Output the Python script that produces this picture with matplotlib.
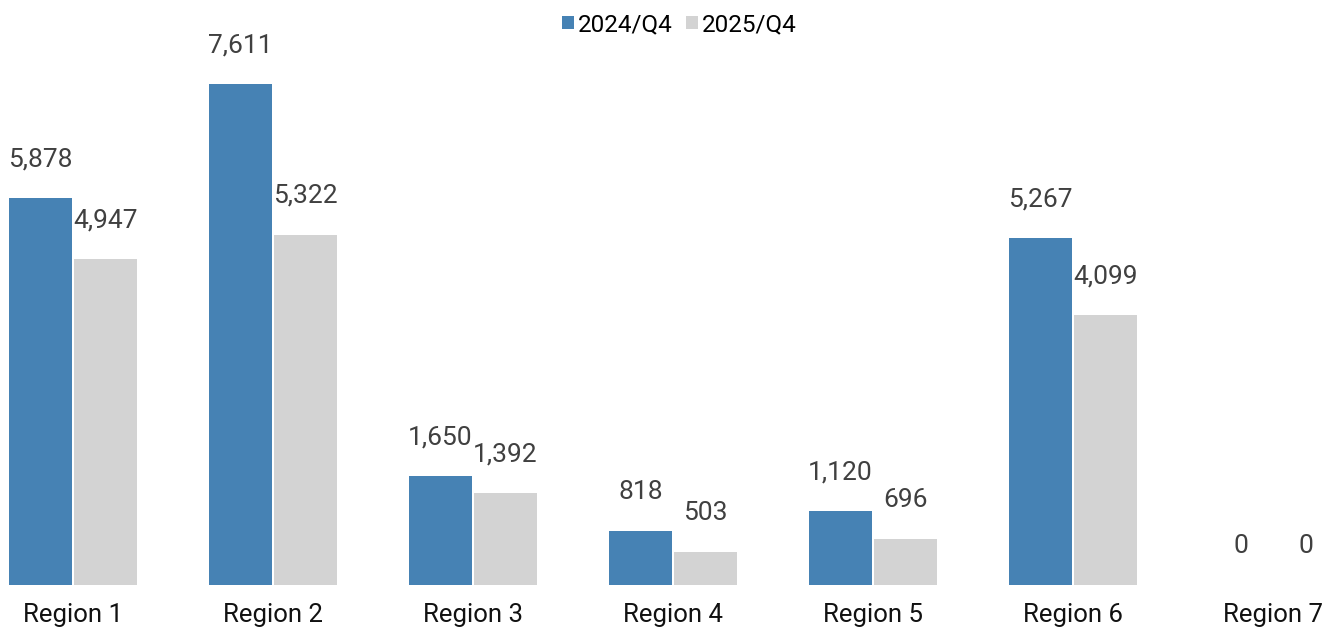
import matplotlib
matplotlib.use("Agg")
import matplotlib.pyplot as plt
import numpy as np

plt.rcParams['font.family'] = ['Roboto', 'DejaVu Sans']

regions = ["Region 1", "Region 2", "Region 3", "Region 4", "Region 5", "Region 6", "Region 7"]
q4_2024 = [5878, 7611, 1650, 818, 1120, 5267, 0]
q4_2025 = [4947, 5322, 1392, 503, 696, 4099, 0]

fig = plt.figure(figsize=(13.38, 6.29), dpi=100)
ax = fig.add_axes([0, 0.07, 1, 0.93])

x = np.arange(len(regions))
w = 0.315
b1 = ax.bar(x - 0.005 - w / 2, q4_2024, w, color="#4682B4", label="2024/Q4")
b2 = ax.bar(x + 0.005 + w / 2, q4_2025, w, color="#D3D3D3", label="2025/Q4")

for bars, vals in [(b1, q4_2024), (b2, q4_2025)]:
    for r, v in zip(bars, vals):
        ax.annotate(f"{v:,}", (r.get_x() + r.get_width() / 2, v),
                    xytext=(0, 28), textcoords="offset points",
                    ha="center", va="center", fontsize=19, color="#404040")

ax.set_xlim(-0.365, 6.325)
ax.set_ylim(0, 8890)
ax.set_xticks(x)
ax.set_xticklabels(regions, fontsize=18.5, color="#111111")
ax.tick_params(axis="x", length=0, pad=13)
ax.set_yticks([])
for s in ax.spines.values():
    s.set_visible(False)

leg = fig.legend(loc="upper center", bbox_to_anchor=(0.5075, 1.014), ncol=2, frameon=False,
                 fontsize=17.5, handlelength=0.5, handleheight=0.5, handletextpad=0.15,
                 columnspacing=0.55)

fig.savefig("out.png", dpi=100)
